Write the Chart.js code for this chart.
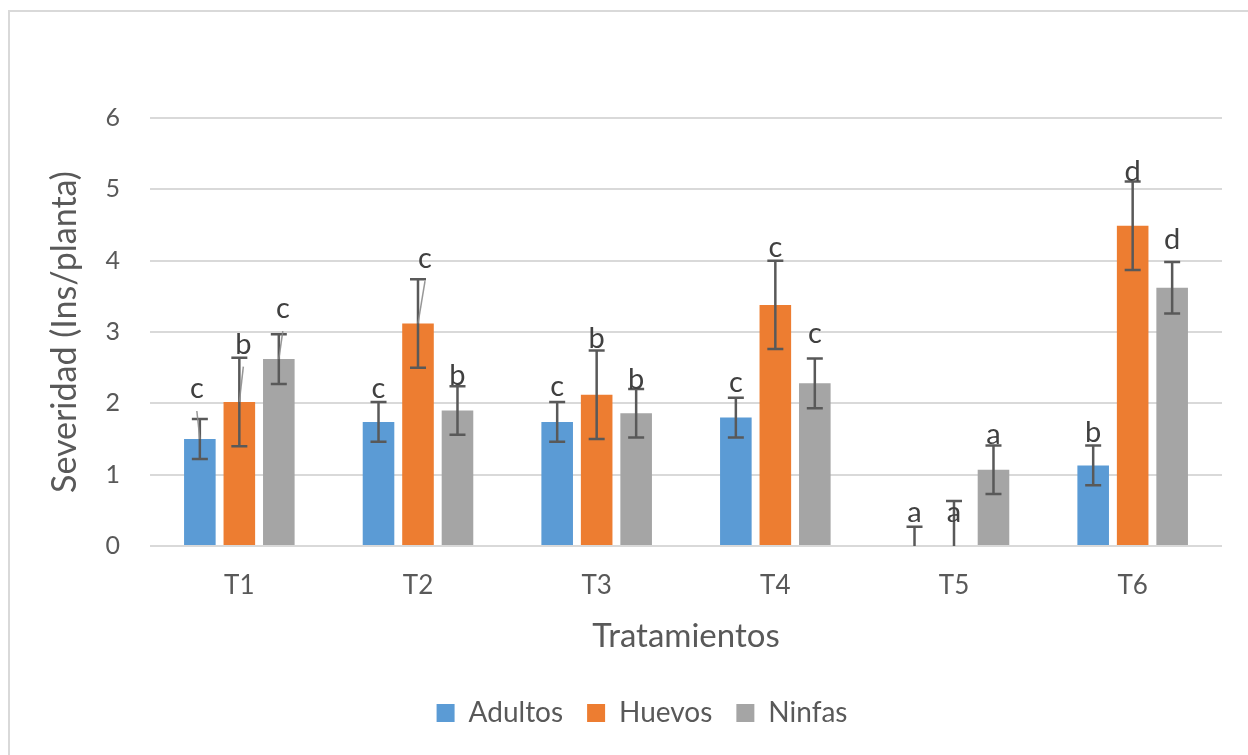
<!DOCTYPE html>
<html>
<head>
<meta charset="utf-8">
<script src="https://cdn.jsdelivr.net/npm/chart.js@4.4.0/dist/chart.umd.min.js"></script>
<style>
  html, body { margin: 0; padding: 0; background: #ffffff; overflow: hidden; }
  #wrap { position: relative; width: 1248px; height: 755px; overflow: hidden; }
  #frame { position: absolute; left: 8px; top: 10px; width: 1300px; height: 800px;
           border-left: 2px solid #d9d9d9; border-top: 2px solid #d9d9d9; }
  #c { position: absolute; left: 0; top: 0; }
</style>
</head>
<body>
<div id="wrap">
  <div id="frame"></div>
  <canvas id="c" width="1248" height="755"></canvas>
</div>
<script>
// Treatments on the x axis
const categories = ['T1', 'T2', 'T3', 'T4', 'T5', 'T6'];

// Mean severity (insects per plant) per life stage
const adultos = [1.50, 1.74, 1.74, 1.80, 0.00, 1.13];
const huevos  = [2.02, 3.12, 2.12, 3.38, 0.00, 4.49];
const ninfas  = [2.62, 1.90, 1.86, 2.28, 1.07, 3.62];

// Error (± value) per bar
const adultosErr = [0.28, 0.28, 0.28, 0.28, 0.27, 0.28];
const huevosErr  = [0.62, 0.62, 0.62, 0.62, 0.63, 0.62];
const ninfasErr  = [0.35, 0.34, 0.34, 0.35, 0.34, 0.36];

// Significance letters per bar
const adultosLetters = ['c', 'c', 'c', 'c', 'a', 'b'];
const huevosLetters  = ['b', 'c', 'b', 'c', 'a', 'd'];
const ninfasLetters  = ['c', 'b', 'b', 'c', 'a', 'd'];

const yTicks = [0, 1, 2, 3, 4, 5, 6];

const TEXT = '#595959';
const FONT = 'Lato, "Open Sans", sans-serif';

// Letter placement relative to the upper error cap (px): [dx, baseline dy]
const letterNudge = [
  [[-3, -21], [0, -4], [0, -6], [0, -6], [0, -5], [0, -3]],
  [[4, -4], [7, -11], [0, -3], [0, -4], [0, 21], [0, 0]],
  [[4, -16], [0, -1], [0, 0], [0, -15], [0, -1], [0, -13]]
];
// Labels that carry a thin leader line back to their bar: [dataset, index]
const leaderLines = [[0, 0], [1, 0], [2, 0], [1, 1]];

const errorBarsAndLetters = {
  id: 'errorBarsAndLetters',
  afterDatasetsDraw(chart) {
    const { ctx, chartArea, scales: { y } } = chart;
    const area = chartArea;
    // error bars, clipped to the plot
    ctx.save();
    ctx.beginPath();
    ctx.rect(area.left, area.top - 80, area.right - area.left, area.bottom - area.top + 80);
    ctx.clip();
    ctx.strokeStyle = '#595959';
    ctx.lineWidth = 2.5;
    chart.data.datasets.forEach((ds, di) => {
      const meta = chart.getDatasetMeta(di);
      meta.data.forEach((bar, i) => {
        const v = ds.data[i], e = ds.errors[i];
        const yt = y.getPixelForValue(v + e);
        const yb = y.getPixelForValue(v - e);
        const x = bar.x;
        ctx.beginPath();
        ctx.moveTo(x, yt); ctx.lineTo(x, yb);
        ctx.moveTo(x - 8, yt); ctx.lineTo(x + 8, yt);
        ctx.moveTo(x - 8, yb); ctx.lineTo(x + 8, yb);
        ctx.stroke();
      });
    });
    ctx.restore();

    // leader lines and letters
    ctx.save();
    ctx.font = '29px ' + FONT;
    ctx.textAlign = 'center';
    ctx.textBaseline = 'alphabetic';
    chart.data.datasets.forEach((ds, di) => {
      const meta = chart.getDatasetMeta(di);
      meta.data.forEach((bar, i) => {
        const v = ds.data[i], e = ds.errors[i];
        const yt = y.getPixelForValue(v + e);
        const [dx, dy] = letterNudge[di][i];
        const lx = bar.x + dx, ly = yt + dy;
        if (leaderLines.some(p => p[0] === di && p[1] === i)) {
          ctx.strokeStyle = 'rgba(140,140,140,0.9)';
          ctx.lineWidth = 1.5;
          ctx.beginPath();
          ctx.moveTo(lx, ly + 13);
          ctx.lineTo(bar.x, y.getPixelForValue(v));
          ctx.stroke();
        }
        ctx.fillStyle = '#404040';
        ctx.fillText(ds.letters[i], lx, ly);
      });
    });
    ctx.restore();
  }
};

// Nudge the legend row slightly right of the canvas centre
const legendShift = {
  id: 'legendShift',
  afterLayout(chart) {
    if (chart.legend) { chart.legend.left += 10; chart.legend.right += 10; }
  }
};

function build() {
  new Chart(document.getElementById('c'), {
    type: 'bar',
    data: {
      labels: categories,
      datasets: [
        { label: 'Adultos', data: adultos, errors: adultosErr, letters: adultosLetters,
          backgroundColor: '#5B9BD5' },
        { label: 'Huevos', data: huevos, errors: huevosErr, letters: huevosLetters,
          backgroundColor: '#ED7D31' },
        { label: 'Ninfas', data: ninfas, errors: ninfasErr, letters: ninfasLetters,
          backgroundColor: '#A5A5A5' }
      ]
    },
    options: {
      responsive: false,
      animation: false,
      devicePixelRatio: 1,
      categoryPercentage: 0.663,
      barPercentage: 0.80,
      layout: { padding: { left: 42, right: 26, top: 118, bottom: 18 } },
      plugins: {
        tooltip: { enabled: false },
        legend: {
          position: 'bottom',
          labels: {
            boxWidth: 18, boxHeight: 18, padding: 24,
            color: TEXT, font: { family: FONT, size: 28 }
          }
        }
      },
      scales: {
        x: {
          grid: { display: false, drawTicks: false },
          border: { display: false },
          ticks: { color: TEXT, font: { family: FONT, size: 26 }, padding: 24, maxRotation: 0 },
          title: { display: true, text: 'Tratamientos', color: TEXT,
                   font: { family: FONT, size: 33 }, padding: { top: 0, bottom: 19 } },
          afterFit(s) { s.height = 129; }
        },
        y: {
          min: 0, max: 6,
          afterBuildTicks(s) { s.ticks = yTicks.map(v => ({ value: v })); },
          grid: { color: '#d9d9d9', lineWidth: 2, drawTicks: false },
          border: { display: false },
          ticks: { color: TEXT, font: { family: FONT, size: 25 }, padding: 30 },
          title: { display: true, text: 'Severidad (Ins/planta)', color: TEXT,
                   font: { family: FONT, size: 34 }, padding: { top: 3, bottom: 4 } },
          afterFit(s) { s.width = 108; }
        }
      }
    },
    plugins: [errorBarsAndLetters, legendShift]
  });
}

if (document.fonts && document.fonts.load) {
  Promise.all([document.fonts.load('28px Lato')]).then(build, build);
} else {
  build();
}
</script>
</body>
</html>
